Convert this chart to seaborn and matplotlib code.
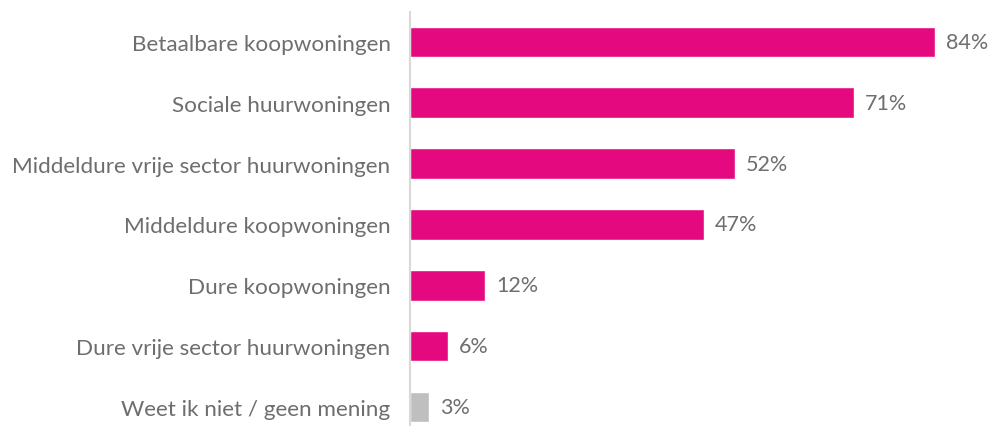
import matplotlib
matplotlib.use("Agg")
from matplotlib import pyplot as plt
import seaborn as sns

categories = [
    "Betaalbare koopwoningen",
    "Sociale huurwoningen",
    "Middeldure vrije sector huurwoningen",
    "Middeldure koopwoningen",
    "Dure koopwoningen",
    "Dure vrije sector huurwoningen",
    "Weet ik niet / geen mening",
]
values = [84, 71, 52, 47, 12, 6, 3]
bar_colors = ["#E5097F"] * 6 + ["#BFBFBF"]

sns.set_style("white")
plt.rcParams["font.family"] = ["Lato", "DejaVu Sans"]

fig = plt.figure(figsize=(9.89, 4.27), dpi=100)
ax = fig.add_axes([410 / 989, 0, 579 / 989, 414 / 427])

sns.barplot(x=values, y=categories, hue=categories, palette=bar_colors,
            legend=False, width=0.5, saturation=1, ax=ax)

ax.set_xlim(0, 579 / 6.25)
ax.set_ylim(6.31, -0.49)
ax.set_xlabel("")
ax.set_ylabel("")
ax.set_xticks([])

for side in ["top", "right", "bottom"]:
    ax.spines[side].set_visible(False)
ax.spines["left"].set_color("#D9D9D9")
ax.spines["left"].set_linewidth(1.5)

ax.tick_params(axis="y", length=0, pad=14, labelsize=16.2, labelcolor="#6E6E6E")

for cont in ax.containers:
    ax.bar_label(cont, labels=[f"{v:.0f}%" for v in cont.datavalues],
                 padding=8, fontsize=15.5, color="#6E6E6E")

fig.savefig("out.png", dpi=100)
